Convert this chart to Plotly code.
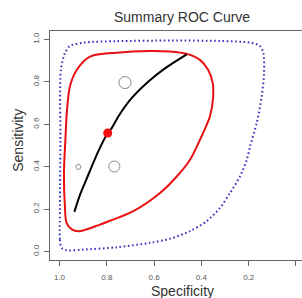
import plotly.graph_objects as go

# SROC curve (specificity, sensitivity)
sroc_spec = [0.937, 0.913, 0.878, 0.836, 0.796, 0.779, 0.751, 0.695, 0.625, 0.554, 0.462]
sroc_sens = [0.187, 0.268, 0.362, 0.472, 0.559, 0.582, 0.637, 0.723, 0.801, 0.864, 0.930]

# summary point
sum_spec = [0.796]
sum_sens = [0.559]

# individual studies
study_spec = [0.723, 0.768, 0.920]
study_sens = [0.797, 0.401, 0.399]
study_size = [12, 11, 5]

# 95% confidence region
conf_spec = [0.981, 0.977, 0.970, 0.948, 0.913, 0.829, 0.688, 0.575, 0.504, 0.448, 0.406, 0.364,
             0.350, 0.352, 0.371, 0.406, 0.462, 0.533, 0.617, 0.758, 0.871, 0.927, 0.956, 0.968,
             0.975, 0.981]
conf_sens = [0.370, 0.213, 0.135, 0.104, 0.096, 0.127, 0.190, 0.276, 0.354, 0.433, 0.527, 0.637,
             0.731, 0.794, 0.856, 0.904, 0.932, 0.943, 0.946, 0.938, 0.919, 0.856, 0.778, 0.668,
             0.527, 0.370]

# 95% prediction region
pred_spec = [0.998, 0.998, 0.991, 0.970, 0.899, 0.758, 0.617, 0.533, 0.448, 0.378, 0.321, 0.279,
             0.237, 0.208, 0.194, 0.166, 0.145, 0.135, 0.138, 0.152, 0.194, 0.321, 0.533, 0.758,
             0.899, 0.956, 0.977, 0.994, 0.996, 0.998]
pred_sens = [0.213, 0.056, 0.017, 0.006, 0.009, 0.020, 0.041, 0.060, 0.096, 0.143, 0.206, 0.276,
             0.354, 0.433, 0.496, 0.606, 0.731, 0.841, 0.935, 0.969, 0.985, 0.993, 0.995, 0.992,
             0.985, 0.969, 0.935, 0.856, 0.527, 0.213]

tick_vals = [0.0, 0.2, 0.4, 0.6, 0.8, 1.0]
tick_text = ["0.0", "0.2", "0.4", "0.6", "0.8", "1.0"]

fig = go.Figure()
fig.add_trace(go.Scatter(x=pred_spec, y=pred_sens, mode="lines",
                         line=dict(color="#3535c0", width=2, dash="1.6px,2.6px", shape="spline", smoothing=0.8),
                         hoverinfo="skip"))
fig.add_trace(go.Scatter(x=conf_spec, y=conf_sens, mode="lines",
                         line=dict(color="#e81010", width=2, shape="spline", smoothing=0.8),
                         hoverinfo="skip"))
fig.add_trace(go.Scatter(x=sroc_spec, y=sroc_sens, mode="lines",
                         line=dict(color="black", width=2, shape="spline", smoothing=0.6),
                         hoverinfo="skip"))
fig.add_trace(go.Scatter(x=study_spec, y=study_sens, mode="markers",
                         marker=dict(size=study_size, color="rgba(0,0,0,0)",
                                     line=dict(color="#555555", width=1)),
                         hoverinfo="skip"))
fig.add_trace(go.Scatter(x=sum_spec, y=sum_sens, mode="markers",
                         marker=dict(size=9, color="#f01010"),
                         hoverinfo="skip"))

axis_common = dict(showgrid=False, zeroline=False, showline=True, linecolor="#666666", linewidth=1,
                   ticks="outside", ticklen=5, tickcolor="#666666",
                   tickfont=dict(family="Liberation Sans, Arial, sans-serif", size=8, color="#555555"),
                   tickvals=tick_vals, ticktext=tick_text)

fig.update_layout(
    width=302, height=298,
    margin=dict(l=50, r=0, t=31, b=37.5),
    paper_bgcolor="white", plot_bgcolor="white",
    showlegend=False,
    xaxis=dict(range=[1.04, -0.0254], mirror=True, ticklabelstandoff=4, **axis_common),
    yaxis=dict(range=[-0.04, 1.04], tickangle=-90, ticklabelstandoff=2, **axis_common),
    annotations=[
        dict(text="Summary ROC Curve", xref="paper", yref="paper", x=0.524, y=1.061,
             showarrow=False, xanchor="center", yanchor="middle",
             font=dict(family="Liberation Sans, Arial, sans-serif", size=14, color="#333333")),
        dict(text="Specificity", xref="paper", yref="paper", x=0.524, y=-0.136,
             showarrow=False, xanchor="center", yanchor="middle",
             font=dict(family="Liberation Sans, Arial, sans-serif", size=14, color="#333333")),
        dict(text="Sensitivity", xref="paper", yref="paper", x=-0.127, y=0.525,
             showarrow=False, xanchor="center", yanchor="middle", textangle=-90,
             font=dict(family="Liberation Sans, Arial, sans-serif", size=14, color="#333333")),
    ],
)

fig.write_html("out.html", config={"displayModeBar": False, "staticPlot": True},
               post_script="document.body.style.margin='0px';document.body.style.overflow='hidden';")
